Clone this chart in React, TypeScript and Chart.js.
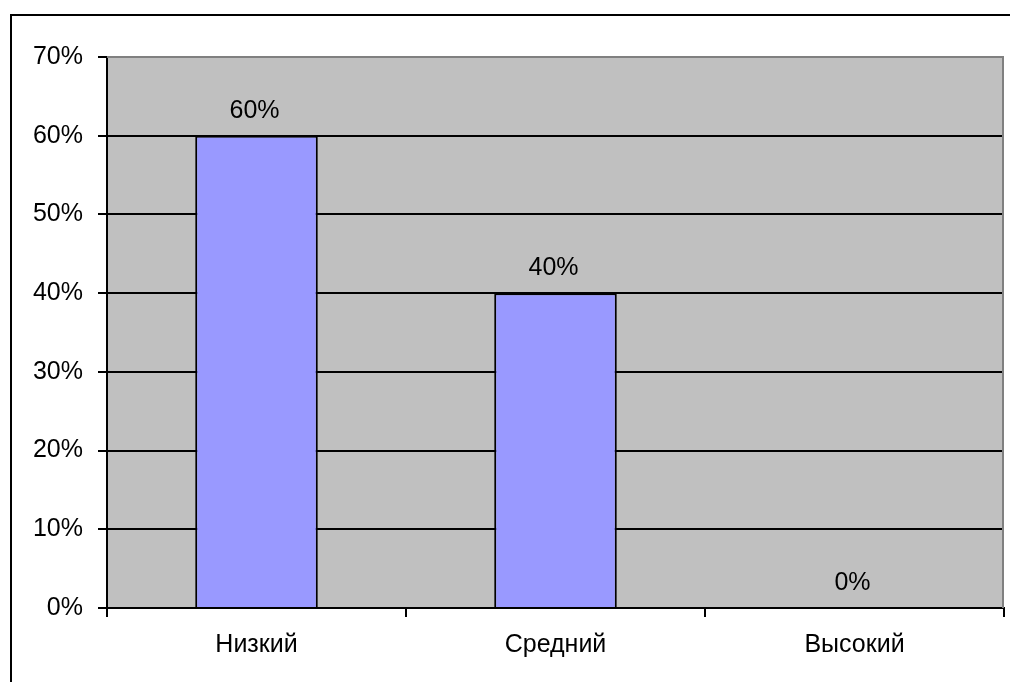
import React, { useEffect, useRef } from "react";
import { Chart, registerables } from "chart.js";

Chart.register(...registerables);

const categories = ["Низкий", "Средний", "Высокий"];
const shares = [60, 40, 0];
const yTicks = [0, 10, 20, 30, 40, 50, 60, 70];

const FONT = "'Liberation Sans', Arial, sans-serif";
const FONT_SIZE = 25;

// Grey plot background, frame and the outer chart border
const framePlugin = {
  id: "frame",
  beforeDraw(chart: any) {
    const { ctx, chartArea: a } = chart;
    ctx.save();
    ctx.fillStyle = "#fff";
    ctx.fillRect(0, 0, chart.width, chart.height);
    ctx.strokeStyle = "#000";
    ctx.lineWidth = 2;
    ctx.strokeRect(11, 15, 2000, 2000);
    ctx.fillStyle = "#C0C0C0";
    ctx.fillRect(a.left, a.top, a.right - a.left, a.bottom - a.top);
    ctx.restore();
  },
  beforeDatasetsDraw(chart: any) {
    const { ctx, chartArea: a } = chart;
    ctx.save();
    ctx.strokeStyle = "#808080";
    ctx.lineWidth = 2;
    ctx.beginPath();
    ctx.moveTo(a.left, a.top);
    ctx.lineTo(a.right - 1, a.top);
    ctx.lineTo(a.right - 1, a.bottom);
    ctx.stroke();
    ctx.restore();
  },
};

// Percentage labels above each bar
const valueLabels = {
  id: "valueLabels",
  afterDatasetsDraw(chart: any) {
    const { ctx } = chart;
    const meta = chart.getDatasetMeta(0);
    ctx.save();
    ctx.font = `${FONT_SIZE}px ${FONT}`;
    ctx.fillStyle = "#000";
    ctx.textAlign = "center";
    ctx.textBaseline = "alphabetic";
    meta.data.forEach((bar: any, i: number) => {
      ctx.fillText(`${shares[i]}%`, bar.x - 2, bar.y - 18);
    });
    ctx.restore();
  },
};

export default function App() {
  const ref = useRef<HTMLCanvasElement>(null);

  useEffect(() => {
    if (!ref.current) return;
    const chart = new Chart(ref.current, {
      type: "bar",
      data: {
        labels: categories,
        datasets: [
          {
            data: shares,
            backgroundColor: "#9999FF",
            borderColor: "#000",
            borderWidth: 2,
            categoryPercentage: 1,
            barPercentage: 0.41,
          },
        ],
      },
      options: {
        responsive: false,
        animation: false,
        layout: { padding: { top: 57, right: 6, left: 0, bottom: 0 } },
        plugins: { legend: { display: false }, tooltip: { enabled: false } },
        scales: {
          x: {
            grid: {
              offset: true,
              drawOnChartArea: false,
              tickLength: 9,
              tickColor: "#000",
              lineWidth: 2,
            },
            border: { display: true, color: "#000", width: 2 },
            ticks: {
              color: "#000",
              font: { family: FONT, size: FONT_SIZE },
              padding: 13,
              maxRotation: 0,
            },
            afterFit(scale: any) {
              scale.height = 74;
            },
          },
          y: {
            min: 0,
            max: 70,
            afterBuildTicks(scale: any) {
              scale.ticks = yTicks.map((v) => ({ value: v }));
            },
            grid: {
              color: (c: any) => (c.tick && c.tick.value === 70 ? "rgba(0,0,0,0)" : "#000"),
              tickColor: "#000",
              lineWidth: 2,
              tickLength: 9,
            },
            border: { display: true, color: "#000", width: 2 },
            ticks: {
              color: "#000",
              font: { family: FONT, size: FONT_SIZE },
              padding: 15,
              callback: (v: any) => `${v}%`,
            },
            afterFit(scale: any) {
              scale.width = 107;
            },
          },
        },
      },
      plugins: [framePlugin, valueLabels],
    });
    return () => chart.destroy();
  }, []);

  return (
    <div style={{ position: "absolute", left: 0, top: 0, width: 1010, height: 682 }}>
      <canvas ref={ref} width={1010} height={682} style={{ display: "block" }} />
    </div>
  );
}
